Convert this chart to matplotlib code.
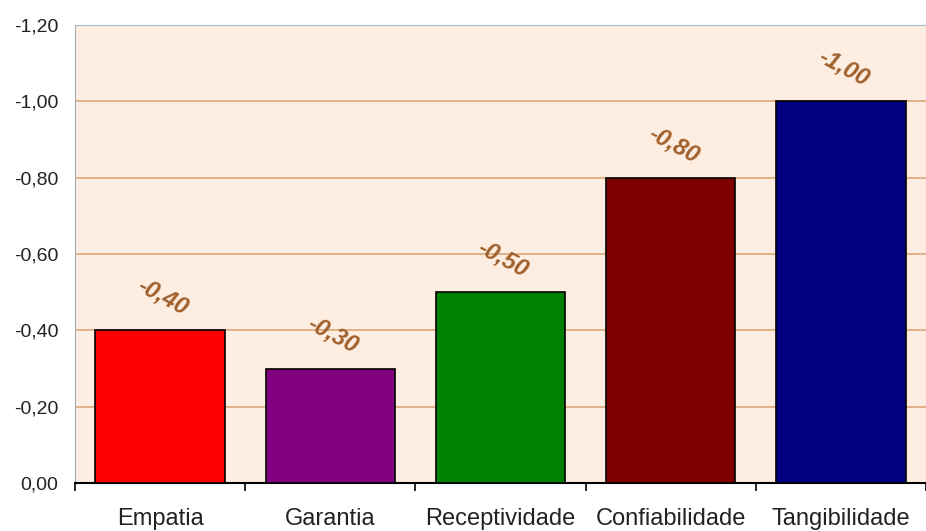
import matplotlib
matplotlib.use("Agg")
import matplotlib.pyplot as plt
import numpy as np

# Chart data
categories = ["Empatia", "Garantia", "Receptividade", "Confiabilidade", "Tangibilidade"]
values = [-0.40, -0.30, -0.50, -0.80, -1.00]
bar_colors = ["#FF0000", "#800080", "#008000", "#800000", "#000080"]
y_ticks = [0.0, -0.2, -0.4, -0.6, -0.8, -1.0, -1.2]

plt.rcParams["font.family"] = ["Liberation Sans", "DejaVu Sans"]

fig = plt.figure(figsize=(9.26, 5.31), dpi=100)
ax = fig.add_axes([75 / 926, 48 / 531, 851 / 926, 458 / 531])
ax.set_facecolor("#FEEEE1")

x = np.arange(len(categories))
bars = ax.bar(x, values, width=0.76, color=bar_colors, edgecolor="black",
              linewidth=1.2, zorder=3)

# Value labels, rotated like the original
for xi, v in zip(x, values):
    ax.annotate(f"{v:.2f}".replace(".", ","), xy=(xi, v), xytext=(2, 24),
                textcoords="offset points", ha="center", va="center",
                rotation=-28, rotation_mode="anchor", fontsize=17,
                fontweight="bold", fontstyle="italic", color="#A0602C", zorder=4)

# Inverted y axis: 0 at bottom, -1,20 at top
ax.set_ylim(0, -1.2)
ax.set_xlim(-0.5, len(categories) - 0.5)
ax.set_yticks(y_ticks)
ax.set_yticklabels([f"{t:.2f}".replace(".", ",") for t in y_ticks], fontsize=14,
                   color="#222222")
ax.tick_params(axis="y", length=0, pad=12)

ax.set_xticks(x)
ax.set_xticklabels(categories, fontsize=17, color="#222222")
ax.set_xticks(np.arange(-0.5, len(categories)), minor=True)
ax.tick_params(axis="x", which="major", length=0, pad=18)
ax.tick_params(axis="x", which="minor", length=6, width=1.2, color="black")

for t in y_ticks[1:-1]:
    ax.axhline(t, color="#DDA878", linewidth=1.2, zorder=1)

ax.spines["right"].set_visible(False)
ax.spines["left"].set_color("#A0A8B0")
ax.spines["top"].set_color("#A8BCCC")
ax.spines["bottom"].set_color("black")
ax.spines["bottom"].set_linewidth(1.5)

fig.savefig("out.png", dpi=100)
